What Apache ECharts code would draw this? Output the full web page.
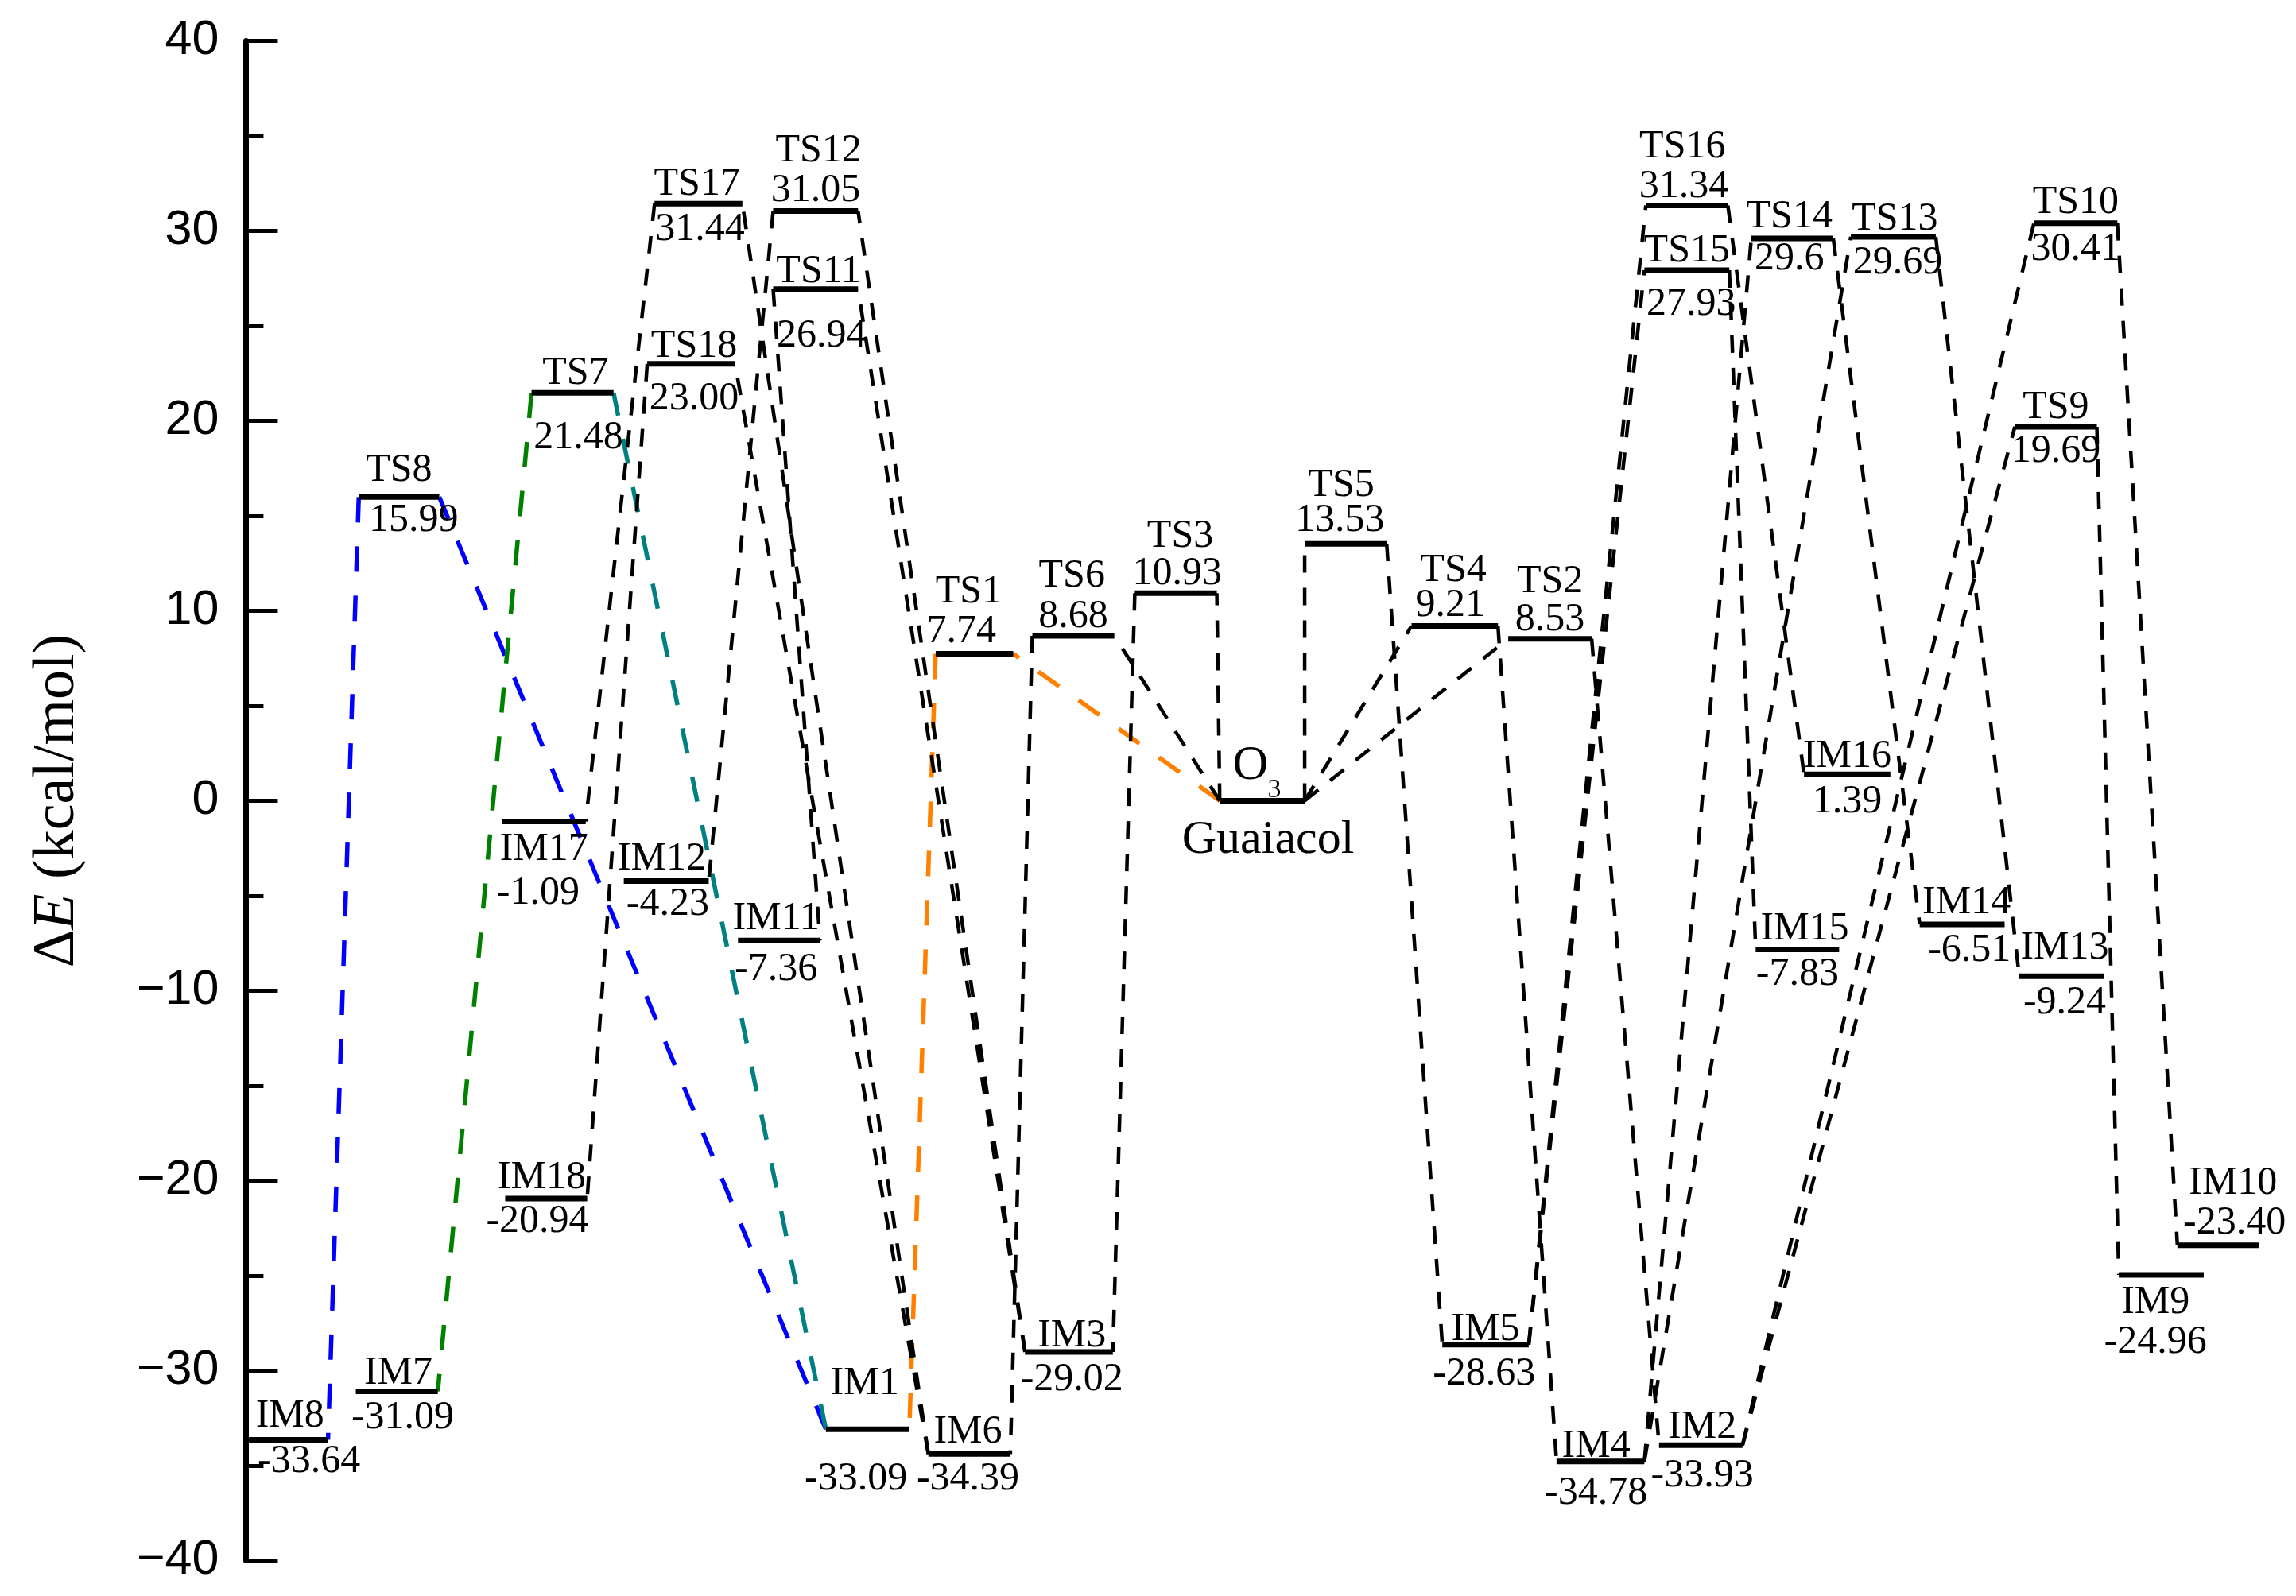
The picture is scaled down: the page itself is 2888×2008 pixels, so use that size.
<!DOCTYPE html>
<html><head><meta charset="utf-8">
<script src="https://cdn.jsdelivr.net/npm/echarts@6/dist/echarts.min.js"></script>
<style>html,body{margin:0;padding:0;background:#fff}#c{width:2888px;height:2008px}</style>
</head><body><div id="c"></div><script>
// ---- data ----
const species = ['IM8','TS8','IM7','TS7','IM17','IM18','TS17','TS18','IM12','IM11','TS12','TS11','IM1','IM6','TS1','TS6','IM3','TS3','O_3','TS5','TS4','TS2','IM5','IM4','IM2','TS16','TS15','TS14','TS13','IM16','IM15','IM14','IM13','TS10','TS9','IM9','IM10'];
const energies = [-33.64,15.99,-31.09,21.48,-1.09,-20.94,31.44,23.00,-4.23,-7.36,31.05,26.94,-33.09,-34.39,7.74,8.68,-29.02,10.93,0,13.53,9.21,8.53,-28.63,-34.78,-33.93,31.34,27.93,29.6,29.69,1.39,-7.83,-6.51,-9.24,30.41,19.69,-24.96,-23.40];
const energyText = ['-33.64','15.99','-31.09','21.48','-1.09','-20.94','31.44','23.00','-4.23','-7.36','31.05','26.94','-33.09','-34.39','7.74','8.68','-29.02','10.93','Guaiacol','13.53','9.21','8.53','-28.63','-34.78','-33.93','31.34','27.93','29.6','29.69','1.39','-7.83','-6.51','-9.24','30.41','19.69','-24.96','-23.40'];
const yTicks = [-40,-30,-20,-10,0,10,20,30,40];
// pathways: [from, end, to, end, colour]
const paths = [
 ['O_3','L','TS1','R',1],['TS1','L','IM1','R',1],
 ['IM1','L','TS8','R',2],['TS8','L','IM8','R',2],
 ['IM1','L','TS7','R',3],['TS7','L','IM7','R',4],
 ['O_3','L','TS6','R',0],['TS6','L','IM6','R',0],
 ['IM6','L','TS17','R',0],['TS17','L','IM17','R',0],
 ['IM6','L','TS18','R',0],['TS18','L','IM18','R',0],
 ['O_3','L','TS3','R',0],['TS3','L','IM3','R',0],
 ['IM3','L','TS11','R',0],['TS11','L','IM11','R',0],
 ['IM3','L','TS12','R',0],['TS12','L','IM12','R',0],
 ['O_3','R','TS5','L',0],['TS5','R','IM5','L',0],
 ['IM5','R','TS16','L',0],['TS16','R','IM16','L',0],
 ['IM5','R','TS15','L',0],['TS15','R','IM15','L',0],
 ['O_3','R','TS4','L',0],['TS4','R','IM4','L',0],
 ['IM4','R','TS14','L',0],['TS14','R','IM14','L',0],
 ['IM4','R','TS13','L',0],['TS13','R','IM13','L',0],
 ['O_3','R','TS2','L',0],['TS2','R','IM2','L',0],
 ['IM2','R','TS10','L',0],['TS10','R','IM10','L',0],
 ['IM2','R','TS9','L',0],['TS9','R','IM9','L',0]
];

// ---- layout (reaction-coordinate positions and label offsets) ----
const K = 2888 / 1568;
const levelLeft  = [170,245,243,363,343,345,447,442,426,504,528,528,564,634,639,705,700,775,833,891,964,1030,985,1063,1133,1124,1123,1196,1264,1232,1199,1311,1379,1389,1376,1447,1487];
const levelRight = [224,300,299,419,400,401,507,502,484,560,586,586,621,690,692,761,760,831,891,947,1023,1087,1044,1123,1190,1180,1181,1252,1322,1291,1256,1369,1437,1446,1432,1505,1543];
const nameOff = [[1,-16],[0,-18],[1,-12],[2,-13],[0,19],[-3,-14],[-1,-13],[2,-12],[-3,-15],[-2,-15],[2,-41],[2,-12],[-2,-31],[-1,-15],[-4,-42],[-1,-41],[2,-11],[3,-39],[-8,-24],[-3,-40],[-1,-38],[0,-39],[0,-10],[-3,-10],[1,-12],[-3,-40],[0,-13],[-2,-15],[1,-12],[0,-12],[5,-14],[3,-15],[2,-19],[0,-14],[0,-13],[-4,19],[10,-42]];
const valOff = [[14,15],[10,16],[4,18],[4,31],[-4,49],[-6,16],[1,18],[2,24],[1,16],[-2,20],[0,-14],[4,32],[-8,34],[-1,17],[-9,-15],[0,-13],[2,19],[1,-13],[4,27],[-4,-16],[-3,-14],[0,-13],[-1,20],[-3,22],[1,21],[-2,-13],[3,23],[-2,14],[3,18],[0,19],[0,17],[5,18],[2,18],[0,18],[0,17],[-4,46],[11,-15]];
const pathColors = ['#000000','#FF8000','#0000FF','#008080','#008000'];

const idx = n => species.indexOf(n);
const endX = (i, e) => e === 'L' ? levelLeft[i] : levelRight[i];
const pathData = paths.map(p => {
  const a = idx(p[0]), b = idx(p[2]);
  return [endX(a, p[1]), energies[a], endX(b, p[3]), energies[b], p[4]];
});
const levelData = species.map((n, i) => [levelLeft[i], levelRight[i], energies[i], i]);

const serif = '"Liberation Serif","Times New Roman",serif';
function txt(x, y, s, size) {
  return {type:'text', x, y, style:{text:s, fill:'#000', fontSize:size, fontFamily:serif, align:'center', verticalAlign:'middle', textAlign:'center', textVerticalAlign:'middle'}};
}

const chart = echarts.init(document.getElementById('c'), null, {renderer:'canvas'});
chart.setOption({
  animation:false,
  backgroundColor:'#fff',
  grid:{left:168*K, right:0, top:28*K, bottom:2008-1066*K},
  xAxis:{type:'value', min:168, max:1568, show:false},
  yAxis:{
    type:'value', min:yTicks[0], max:yTicks[yTicks.length-1], interval:yTicks[1]-yTicks[0],
    axisLine:{show:true, lineStyle:{color:'#000', width:7}},
    axisTick:{show:true, inside:true, length:40, lineStyle:{color:'#000', width:5}},
    minorTick:{show:true, splitNumber:2, length:22, lineStyle:{color:'#000', width:5}},
    splitLine:{show:false},
    axisLabel:{fontSize:61, fontFamily:'"Liberation Sans",Arial,sans-serif', color:'#000', margin:34,
      formatter:v => String(v).replace('-', '\u2212')},
    name:'Δ{i|E} (kcal/mol)', nameLocation:'middle', nameRotate:90, nameGap:200,
    nameTextStyle:{fontSize:74, fontFamily:serif, color:'#000',
      rich:{i:{fontSize:74, fontFamily:serif, fontStyle:'italic', color:'#000'}}}
  },
  series:[
    {
      type:'custom', z:2, silent:true,
      data:pathData,
      encode:{x:[0,2], y:[1,3]},
      renderItem(params, api){
        const p1 = api.coord([api.value(0), api.value(1)]);
        const p2 = api.coord([api.value(2), api.value(3)]);
        const c = api.value(4);
        const black = c === 0;
        return {type:'line', shape:{x1:p1[0], y1:p1[1], x2:p2[0], y2:p2[1]},
          style:{stroke:pathColors[c], lineWidth: black ? 4.5 : 5.5, lineDash: black ? [22,19] : [32,30], fill:null}};
      }
    },
    {
      type:'custom', z:3, silent:true,
      data:levelData,
      encode:{x:[0,1], y:2},
      renderItem(params, api){
        const i = api.value(3);
        const p1 = api.coord([api.value(0), api.value(2)]);
        const p2 = api.coord([api.value(1), api.value(2)]);
        const cx = (p1[0] + p2[0]) / 2, cy = p1[1];
        const children = [{type:'line', shape:{x1:p1[0], y1:cy, x2:p2[0], y2:cy}, style:{stroke:'#000', lineWidth:7}}];
        const name = species[i];
        const isR = name.indexOf('_') >= 0;
        const nx = cx + nameOff[i][0]*K, ny = cy + nameOff[i][1]*K;
        if (isR) {
          const parts = name.split('_');
          children.push(txt(nx, ny, parts[0], 62));
          children.push(txt(nx + 30, ny + 31, parts[1], 34));
        } else {
          children.push(txt(nx, ny, name, 50));
        }
        children.push(txt(cx + valOff[i][0]*K, cy + valOff[i][1]*K, energyText[i], isR ? 60 : 50));
        return {type:'group', children};
      }
    }
  ]
});
</script></body></html>
